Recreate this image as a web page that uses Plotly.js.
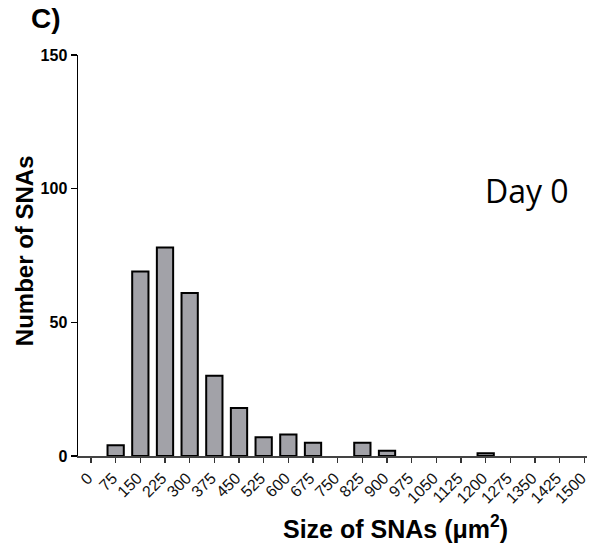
<!DOCTYPE html>
<html>
<head>
<meta charset="utf-8">
<script src="https://cdn.plot.ly/plotly-3.0.1.min.js"></script>
<style>
  html, body { margin: 0; padding: 0; background: #fff; }
  #chart { width: 590px; height: 547px; }
</style>
</head>
<body>
<div id="chart"></div>
<script>
// Size bins (µm²) and the number of SNAs counted in each bin, day 0
const sizeBins = [0, 75, 150, 225, 300, 375, 450, 525, 600, 675, 750, 825, 900, 975,
                  1050, 1125, 1200, 1275, 1350, 1425, 1500];
const snaCounts = [0, 4, 69, 78, 61, 30, 18, 7, 8, 5, 0, 5, 2, 0,
                   0, 0, 1, 0, 0, 0, 0];
const tickLabels = sizeBins.map(String);
const yTicks = [0, 50, 100, 150];

const arial = 'Liberation Sans, Arial, sans-serif';

// empty bins get no outline so they leave no mark on the baseline
const outlineWidths = snaCounts.map(c => (c > 0 ? 2 : 0));

const trace = {
  type: 'bar',
  x: sizeBins,
  y: snaCounts,
  marker: { color: '#a2a2a8', line: { color: '#000', width: outlineWidths } },
  hoverinfo: 'x+y'
};

const layout = {
  width: 590,
  height: 547,
  margin: { l: 78, r: 3, t: 55, b: 91 },
  paper_bgcolor: '#fff',
  plot_bgcolor: '#fff',
  showlegend: false,
  bargap: 0.34,
  xaxis: {
    range: [-39.5, 1508],
    tickmode: 'array',
    tickvals: sizeBins,
    ticktext: tickLabels,
    tickangle: -45,
    ticklabeloverflow: 'allow',
    ticklabelshift: -3,
    ticks: 'outside',
    ticklen: 5,
    tickwidth: 1.5,
    tickcolor: '#333',
    showline: true,
    linecolor: '#444',
    linewidth: 1.5,
    showgrid: false,
    zeroline: false,
    tickfont: { family: arial, size: 16, color: '#111' }
  },
  yaxis: {
    range: [0, 150],
    tickmode: 'array',
    tickvals: yTicks,
    ticktext: yTicks.map(String),
    ticks: 'outside',
    ticklen: 6,
    tickwidth: 1.5,
    tickcolor: '#000',
    showline: true,
    linecolor: '#000',
    linewidth: 1.5,
    showgrid: false,
    zeroline: false,
    tickfont: { family: arial, size: 16, color: '#000', weight: 'bold' }
  },
  annotations: [
    {
      text: '<b>Size of SNAs (μm<sup>2</sup>)</b>',
      xref: 'paper', yref: 'paper',
      x: 0.623, y: -0.177,
      xanchor: 'center', yanchor: 'middle',
      showarrow: false,
      font: { family: arial, size: 25, color: '#000' }
    },
    {
      text: '<b>Number of SNAs</b>',
      xref: 'paper', yref: 'paper',
      x: -0.106, y: 0.511,
      xanchor: 'center', yanchor: 'middle',
      textangle: -90,
      showarrow: false,
      font: { family: arial, size: 24, color: '#000' }
    },
    {
      text: '<b>C)</b>',
      xref: 'paper', yref: 'paper',
      x: -0.096, y: 1.092,
      xanchor: 'left', yanchor: 'middle',
      showarrow: false,
      font: { family: arial, size: 28, color: '#000' }
    },
    {
      text: 'Day 0',
      xref: 'paper', yref: 'paper',
      x: 0.882, y: 0.663,
      xanchor: 'center', yanchor: 'middle',
      showarrow: false,
      font: { family: 'Open Sans, sans-serif', size: 32, color: '#000' }
    }
  ]
};

Plotly.newPlot('chart', [trace], layout, { displayModeBar: false, staticPlot: true });
</script>
</body>
</html>
